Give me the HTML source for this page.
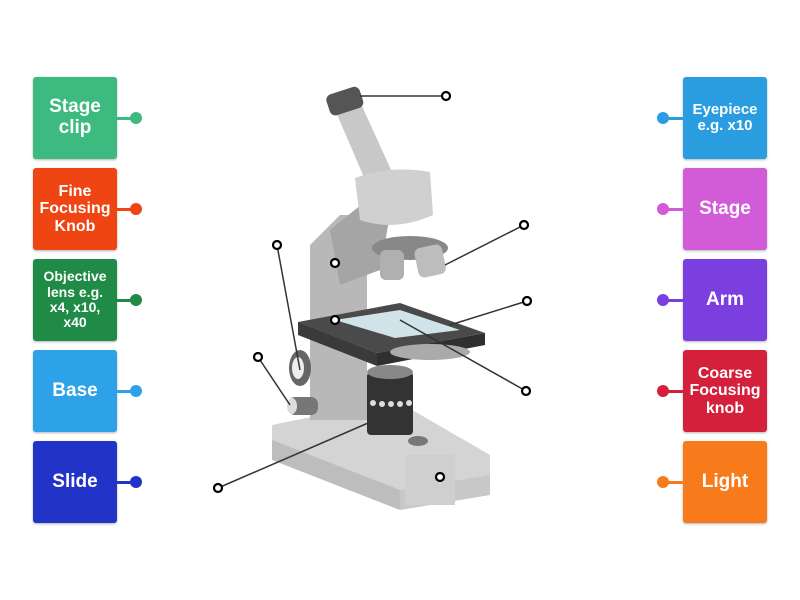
<!DOCTYPE html>
<html><head><style>
body{margin:0;width:800px;height:600px;background:#fff;font-family:"Liberation Sans",sans-serif;position:relative;overflow:hidden}
.b{position:absolute;width:84px;height:82px;border-radius:3px;color:#fff;font-weight:bold;display:flex;align-items:center;justify-content:center;text-align:center;line-height:1.1;box-shadow:0 1px 2px rgba(0,0,0,.3)}
.l{left:33px}.r{left:683px}
.c{position:absolute;height:3px;width:18px}
.d{position:absolute;width:12px;height:12px;border-radius:50%}
</style></head><body>
<svg width="800" height="600" style="position:absolute;left:0;top:0">
<!-- base -->
<polygon points="272,425 395,400 490,455 490,490 400,505 272,440" fill="#d4d4d4"/>
<polygon points="272,440 400,490 400,510 272,460" fill="#bdbdbd"/>
<polygon points="400,490 490,475 490,495 400,510" fill="#c8c8c8"/>
<rect x="405" y="455" width="50" height="50" fill="#cfcfcf"/>
<ellipse cx="418" cy="441" rx="10" ry="5" fill="#777"/>
<!-- arm -->
<polygon points="310,245 340,215 367,215 367,420 310,420" fill="#b8b8b8"/>
<polygon points="330,230 367,200 390,215 380,270 340,285" fill="#a5a5a5"/>
<!-- tube -->
<polygon points="333,105 357,95 392,172 366,182" fill="#c8c8c8"/>
<rect x="327" y="90" width="35" height="22" rx="6" fill="#555" transform="rotate(-18 345 100)"/>
<!-- head -->
<path d="M355,178 Q390,165 430,172 L433,215 Q395,232 360,220 Z" fill="#d0d0d0"/>
<ellipse cx="410" cy="248" rx="38" ry="12" fill="#888"/>
<rect x="380" y="250" width="24" height="30" rx="6" fill="#b0b0b0"/>
<rect x="416" y="246" width="28" height="30" rx="6" fill="#bdbdbd" transform="rotate(-12 430 260)"/>
<!-- stage -->
<polygon points="298,322 400,303 485,333 377,353" fill="#4a4a4a"/>
<polygon points="298,322 377,353 377,366 298,335" fill="#3a3a3a"/>
<polygon points="377,353 485,333 485,345 377,366" fill="#2f2f2f"/>
<polygon points="335,320 400,310 460,330 395,338" fill="#cfe3e8"/>
<ellipse cx="430" cy="352" rx="40" ry="8" fill="#aaa"/>
<!-- condenser -->
<rect x="367" y="372" width="46" height="63" rx="4" fill="#333"/>
<ellipse cx="390" cy="372" rx="23" ry="7" fill="#888"/>
<g fill="#ddd"><circle cx="373" cy="403" r="3"/><circle cx="382" cy="404" r="3"/><circle cx="391" cy="404" r="3"/><circle cx="400" cy="404" r="3"/><circle cx="409" cy="403" r="3"/></g>
<!-- knobs -->
<ellipse cx="300" cy="368" rx="11" ry="18" fill="#666"/><ellipse cx="298" cy="368" rx="6" ry="11" fill="#eee"/>
<rect x="288" y="397" width="30" height="18" rx="7" fill="#777"/><ellipse cx="292" cy="406" rx="5" ry="8" fill="#ddd"/>
<!-- lines -->
<g stroke="#333" stroke-width="1.5">
<line x1="360" y1="96" x2="446" y2="96"/><line x1="445" y1="265" x2="524" y2="225"/>
<line x1="450" y1="325" x2="527" y2="301"/><line x1="400" y1="320" x2="526" y2="391"/>
<line x1="277" y1="245" x2="300" y2="370"/><line x1="258" y1="357" x2="290" y2="405"/>
<line x1="218" y1="488" x2="375" y2="420"/></g>
<g fill="#fff" stroke="#000" stroke-width="2.2">
<circle cx="446" cy="96" r="4"/><circle cx="524" cy="225" r="4"/><circle cx="335" cy="263" r="4"/>
<circle cx="527" cy="301" r="4"/><circle cx="335" cy="320" r="4"/><circle cx="526" cy="391" r="4"/>
<circle cx="277" cy="245" r="4"/><circle cx="258" cy="357" r="4"/><circle cx="218" cy="488" r="4"/>
<circle cx="440" cy="477" r="4"/></g>
</svg>

<div class="b l" style="top:77px;background:#3dba80;font-size:19px">Stage<br>clip</div>
<div class="c" style="left:117px;top:117px;background:#3dba80"></div><div class="d" style="left:130px;top:112px;background:#3dba80"></div>
<div class="b l" style="top:168px;background:#ef4512;font-size:16px">Fine<br>Focusing<br>Knob</div>
<div class="c" style="left:117px;top:208px;background:#ef4512"></div><div class="d" style="left:130px;top:203px;background:#ef4512"></div>
<div class="b l" style="top:259px;background:#1f8b47;font-size:14px">Objective<br>lens e.g.<br>x4, x10,<br>x40</div>
<div class="c" style="left:117px;top:299px;background:#1f8b47"></div><div class="d" style="left:130px;top:294px;background:#1f8b47"></div>
<div class="b l" style="top:350px;background:#2ea2e8;font-size:19px">Base</div>
<div class="c" style="left:117px;top:390px;background:#2ea2e8"></div><div class="d" style="left:130px;top:385px;background:#2ea2e8"></div>
<div class="b l" style="top:441px;background:#2234c8;font-size:19px">Slide</div>
<div class="c" style="left:117px;top:481px;background:#2234c8"></div><div class="d" style="left:130px;top:476px;background:#2234c8"></div>

<div class="b r" style="top:77px;background:#2a9de0;font-size:15px">Eyepiece<br>e.g. x10</div>
<div class="c" style="left:665px;top:117px;background:#2a9de0"></div><div class="d" style="left:657px;top:112px;background:#2a9de0"></div>
<div class="b r" style="top:168px;background:#d25bd8;font-size:19px">Stage</div>
<div class="c" style="left:665px;top:208px;background:#d25bd8"></div><div class="d" style="left:657px;top:203px;background:#d25bd8"></div>
<div class="b r" style="top:259px;background:#7b3fe0;font-size:19px">Arm</div>
<div class="c" style="left:665px;top:299px;background:#7b3fe0"></div><div class="d" style="left:657px;top:294px;background:#7b3fe0"></div>
<div class="b r" style="top:350px;background:#d4203a;font-size:16px">Coarse<br>Focusing<br>knob</div>
<div class="c" style="left:665px;top:390px;background:#d4203a"></div><div class="d" style="left:657px;top:385px;background:#d4203a"></div>
<div class="b r" style="top:441px;background:#f77b1a;font-size:19px">Light</div>
<div class="c" style="left:665px;top:481px;background:#f77b1a"></div><div class="d" style="left:657px;top:476px;background:#f77b1a"></div>
</body></html>
